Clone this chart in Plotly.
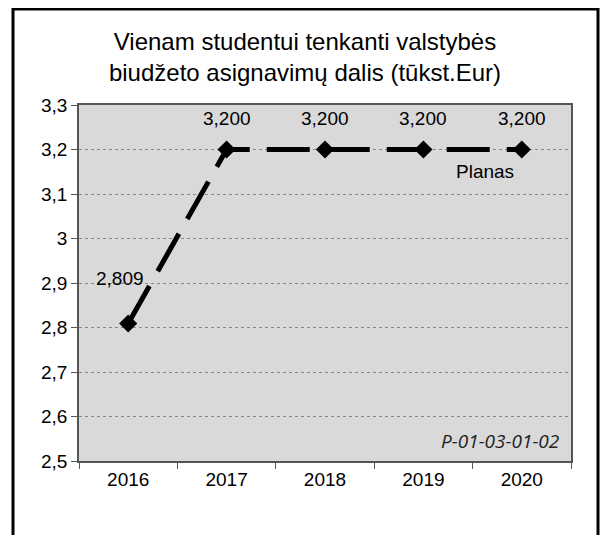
import plotly.graph_objects as go

years = ["2016", "2017", "2018", "2019", "2020"]
values = [2.809, 3.2, 3.2, 3.2, 3.2]
y_ticks = [2.5, 2.6, 2.7, 2.8, 2.9, 3.0, 3.1, 3.2, 3.3]
title_text = "Vienam studentui tenkanti valstybės<br>biudžeto asignavimų dalis (tūkst.Eur)"
series_label = "Planas"
code_label = "P-01-03-01-02"

x_idx = list(range(len(years)))

# the page puts the figure 8px in from the top-left corner
W, H = 600, 527
L, R, T, B = 71, 37, 97, 74
pw, ph = W - L - R, H - T - B

fig = go.Figure()
fig.add_trace(go.Scatter(
    x=x_idx, y=values,
    mode="lines+markers",
    line=dict(color="black", width=5, dash="43px,17px"),
    marker=dict(symbol="diamond", size=14, color="black"),
    hoverinfo="skip",
))

# data labels
for i, v in zip(x_idx, values):
    fig.add_annotation(
        x=i, y=v, text=f"{v:.3f}".replace(".", ","),
        showarrow=False,
        xshift=-8 if i == 0 else 0,
        yshift=45 if i == 0 else 31,
        font=dict(size=19, color="black"),
    )

fig.add_annotation(x=3.63, y=3.2, text=series_label, showarrow=False, yshift=-22,
                   font=dict(size=19, color="black"))
fig.add_annotation(xref="paper", yref="paper", x=0.98, y=0.015, xanchor="right", yanchor="bottom",
                   text=f"<i>{code_label}</i>", showarrow=False,
                   font=dict(size=19, color="#222", family="Open Sans"))

# outer frame
fig.add_shape(type="rect", xref="paper", yref="paper",
              x0=(5 - L) / pw, x1=(590 - L) / pw,
              y0=-0.4, y1=1 + (T - 1) / ph,
              line=dict(color="black", width=3), layer="below")

fig.update_layout(
    width=W, height=H,
    margin=dict(l=L, r=R, t=T, b=B),
    paper_bgcolor="white",
    plot_bgcolor="#d9d9d9",
    showlegend=False,
    font=dict(family="Liberation Sans, Arial", size=19, color="black"),
    title=dict(text=title_text, x=297 / W, xref="container", xanchor="center",
               y=1 - 42 / H, yanchor="middle", yref="container",
               font=dict(size=24, color="black")),
)
fig.update_xaxes(
    range=[-0.5, len(years) - 0.5], tickvals=x_idx, ticktext=years, ticks="",
    minor=dict(tickvals=[i - 0.5 for i in range(len(years) + 1)], ticks="outside",
               ticklen=6, tickcolor="#555", showgrid=False),
    showline=True, linecolor="#555", linewidth=1.5, mirror=True,
    showgrid=False, zeroline=False, tickfont=dict(size=19),
)
fig.update_yaxes(
    range=[2.5, 3.3], tickvals=y_ticks,
    ticktext=[f"{t:g}".replace(".", ",") for t in y_ticks],
    ticks="outside", ticklen=6, tickcolor="#555",
    showline=True, linecolor="#555", linewidth=1.5, mirror=True,
    showgrid=True, gridcolor="#8a8a8a", gridwidth=1, griddash="dot",
    zeroline=False, tickfont=dict(size=19),
)

fig.write_html("out.html")
